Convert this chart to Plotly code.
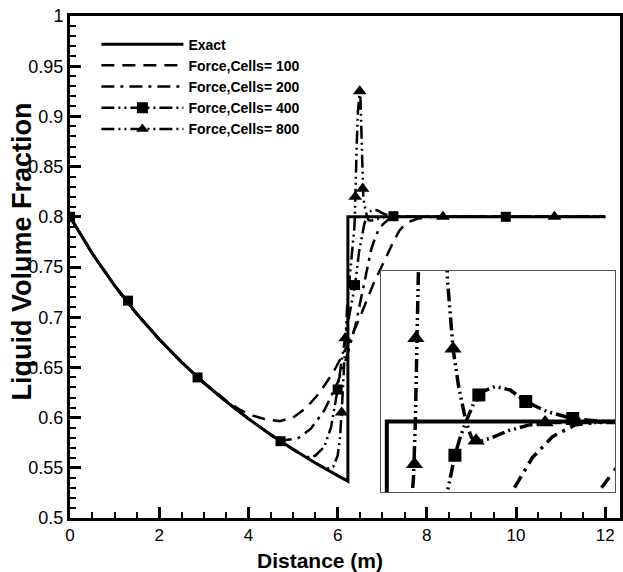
import plotly.graph_objects as go

# ---------------- data ----------------
series_names = ["Exact", "Force,Cells= 100", "Force,Cells= 200",
                "Force,Cells= 400", "Force,Cells= 800"]

exact_x = [0, 0.5, 1, 1.5, 2, 2.5, 3, 3.5, 4, 4.5, 5, 5.5, 6, 6.23, 6.23, 12]
exact_y = [0.8, 0.7634, 0.7315, 0.7032, 0.678, 0.6553, 0.6347, 0.616, 0.5988,
           0.583, 0.5684, 0.5548, 0.5422, 0.5367, 0.8, 0.8]

c100_x = [0, 0.5, 1, 1.5, 2, 2.5, 3, 3.5, 3.8, 4.1, 4.4, 4.7, 5.0, 5.3, 5.6, 5.9,
          6.2, 6.5, 6.8, 7.0, 7.15, 7.27, 7.38, 7.47, 7.6, 7.8, 8.0, 8.3, 12]
c100_y = [0.8, 0.7634, 0.7315, 0.7032, 0.678, 0.6553, 0.6347, 0.617, 0.608,
          0.602, 0.598, 0.5965, 0.600, 0.610, 0.625, 0.645, 0.670, 0.700, 0.733,
          0.752, 0.766, 0.777, 0.786, 0.7905, 0.795, 0.7983, 0.7996, 0.8, 0.8]

c200_x = [0, 0.5, 1, 1.5, 2, 2.5, 3, 3.5, 4, 4.5, 4.8, 5.1, 5.4, 5.7, 6.0, 6.2,
          6.4, 6.6, 6.75, 6.85, 6.91, 7.02, 7.13, 7.25, 7.4, 12]
c200_y = [0.8, 0.7634, 0.7315, 0.7032, 0.678, 0.6553, 0.6347, 0.616, 0.5988,
          0.583, 0.5775, 0.579, 0.589, 0.607, 0.635, 0.660, 0.692, 0.735, 0.767,
          0.7805, 0.786, 0.7928, 0.797, 0.7993, 0.8, 0.8]

c400_x = [0, 0.5, 1, 1.5, 2, 2.5, 3, 3.5, 4, 4.5, 5, 5.3, 5.5, 5.7, 5.85, 6.0,
          6.1, 6.2, 6.3, 6.39, 6.48, 6.53, 6.56, 6.6, 6.63, 6.66, 6.7, 6.75, 6.82,
          6.9, 6.985, 7.1, 7.24, 7.4, 12]
c400_y = [0.8, 0.7634, 0.7315, 0.7032, 0.678, 0.6553, 0.6347, 0.616, 0.5988,
          0.583, 0.5684, 0.5605, 0.562, 0.571, 0.59, 0.628, 0.66, 0.688, 0.711,
          0.732, 0.765, 0.778, 0.7862, 0.7933, 0.797, 0.8, 0.8035, 0.806, 0.807,
          0.8063, 0.804, 0.802, 0.8006, 0.8, 0.8]

c800_x = [0, 0.5, 1, 1.5, 2, 2.5, 3, 3.5, 4, 4.5, 5, 5.5, 5.75, 5.9, 6.0, 6.05,
          6.09, 6.13, 6.17, 6.21, 6.26, 6.31, 6.35, 6.375, 6.385, 6.395, 6.41,
          6.43, 6.455, 6.48, 6.495, 6.51, 6.525, 6.54, 6.55, 6.56, 6.575, 6.59,
          6.62, 6.66, 6.69, 6.715, 6.75, 6.8, 6.89, 7.0, 7.09, 7.25, 12]
c800_y = [0.8, 0.7634, 0.7315, 0.7032, 0.678, 0.6553, 0.6347, 0.616, 0.5988,
          0.583, 0.5684, 0.5548, 0.549, 0.551, 0.562, 0.578, 0.605, 0.642, 0.679,
          0.708, 0.735, 0.758, 0.776, 0.789, 0.80, 0.82, 0.845, 0.875, 0.905,
          0.922, 0.925, 0.92, 0.895, 0.858, 0.838, 0.828, 0.8205, 0.8145, 0.807,
          0.8, 0.7968, 0.7962, 0.7962, 0.7968, 0.7982, 0.7993, 0.7998, 0.8, 0.8]

# marker positions (main frame)
sq_main_x = [0, 1.3, 2.86, 4.72, 6.0, 6.39, 7.25, 9.77]
sq_main_y = [0.8, 0.7165, 0.640, 0.5765, 0.628, 0.732, 0.8006, 0.8]
tri_main_x = [6.09, 6.17, 6.395, 6.495, 6.56, 8.36, 10.86]
tri_main_y = [0.605, 0.679, 0.82, 0.925, 0.828, 0.8, 0.8]

# marker positions (inset frame)
sq_inset_x = [6.6, 6.73, 6.985, 7.24]
sq_inset_y = [0.7933, 0.8053, 0.804, 0.8006]
tri_inset_x = [6.38, 6.388, 6.59, 6.715, 7.09]
tri_inset_y = [0.7915, 0.8166, 0.8145, 0.7962, 0.7998]

x_tick_vals = [0, 2, 4, 6, 8, 10, 12]
y_tick_vals = [0.5, 0.55, 0.6, 0.65, 0.7, 0.75, 0.8, 0.85, 0.9, 0.95, 1.0]
y_tick_text = ["0.5", "0.55", "0.6", "0.65", "0.7", "0.75", "0.8", "0.85",
               "0.9", "0.95", "1"]
x_title = "Distance (m)"
y_title = "Liquid Volume Fraction"

# ---------------- styles ----------------
FONT = "Liberation Sans, Arial, Helvetica, sans-serif"
dash_styles = ["solid", "13px,8px", "13px,6px,3px,6px",
               "13px,4px,2px,4px,2px,4px", "13px,4px,2px,4px,2px,4px"]
main_widths = [3, 2.5, 2.5, 2.5, 2.5]
inset_widths = [4, 3.5, 3.5, 3.5, 3.5]
legend_symbols = [None, None, None, "square", "triangle-up"]

lines_x = [exact_x, c100_x, c200_x, c400_x, c800_x]
lines_y = [exact_y, c100_y, c200_y, c400_y, c800_y]

fig = go.Figure()

# main curves
for i in range(5):
    fig.add_trace(go.Scatter(x=lines_x[i], y=lines_y[i], mode="lines",
                             line=dict(color="black", width=main_widths[i],
                                       dash=dash_styles[i]),
                             showlegend=False, hoverinfo="skip",
                             xaxis="x", yaxis="y"))
fig.add_trace(go.Scatter(x=sq_main_x, y=sq_main_y, mode="markers",
                         marker=dict(symbol="square", size=10, color="black"),
                         showlegend=False, xaxis="x", yaxis="y"))
fig.add_trace(go.Scatter(x=tri_main_x, y=tri_main_y, mode="markers",
                         marker=dict(symbol="triangle-up", size=12, color="black"),
                         showlegend=False, xaxis="x", yaxis="y"))

# inset curves
for i in range(5):
    fig.add_trace(go.Scatter(x=lines_x[i], y=lines_y[i], mode="lines",
                             line=dict(color="black", width=inset_widths[i],
                                       dash=dash_styles[i]),
                             showlegend=False, hoverinfo="skip",
                             xaxis="x2", yaxis="y2"))
fig.add_trace(go.Scatter(x=sq_inset_x, y=sq_inset_y, mode="markers",
                         marker=dict(symbol="square", size=13, color="black"),
                         showlegend=False, xaxis="x2", yaxis="y2"))
fig.add_trace(go.Scatter(x=tri_inset_x, y=tri_inset_y, mode="markers",
                         marker=dict(symbol="triangle-up", size=15, color="black"),
                         showlegend=False, xaxis="x2", yaxis="y2"))

# legend entries
for i in range(5):
    kw = dict(mode="lines")
    if legend_symbols[i]:
        kw = dict(mode="lines+markers",
                  marker=dict(symbol=legend_symbols[i], size=11, color="black"))
    fig.add_trace(go.Scatter(x=[None], y=[None], name=series_names[i],
                             line=dict(color="black", width=main_widths[i],
                                       dash=dash_styles[i]),
                             showlegend=True, xaxis="x", yaxis="y", **kw))

fig.update_layout(
    width=623, height=572,
    margin=dict(l=70, r=0, t=16, b=54),
    paper_bgcolor="white", plot_bgcolor="white",
    font=dict(family=FONT, color="black", size=18),
    showlegend=True,
    legend=dict(x=0.048, y=0.975, xanchor="left", yanchor="top",
                bgcolor="rgba(0,0,0,0)", borderwidth=0, itemwidth=82,
                font=dict(family=FONT, size=14, color="black", weight="bold"),
                tracegroupgap=0),
    xaxis=dict(range=[0, 12.33], domain=[0, 1], tickvals=x_tick_vals,
               ticks="inside", ticklen=11, tickwidth=2.5, tickcolor="black",
               showline=True, linecolor="black", linewidth=3, mirror=True,
               showgrid=False, zeroline=False,
               minor=dict(dtick=0.5, ticks="inside", ticklen=6, tickwidth=1.5,
                          tickcolor="black", showgrid=False),
               tickfont=dict(size=17)),
    yaxis=dict(range=[0.5, 1.0], domain=[0, 1], tickvals=y_tick_vals,
               ticktext=y_tick_text,
               ticks="inside", ticklen=11, tickwidth=2.5, tickcolor="black",
               showline=True, linecolor="black", linewidth=3, mirror=True,
               showgrid=False, zeroline=False,
               minor=dict(dtick=0.01, ticks="inside", ticklen=6, tickwidth=1.5,
                          tickcolor="black", showgrid=False),
               tickfont=dict(size=18)),
    xaxis2=dict(range=[6.2, 7.47], domain=[0.566, 0.991], anchor="y2",
                showticklabels=False, ticks="", showgrid=False, zeroline=False,
                showline=True, linecolor="#555555", linewidth=1.2, mirror=True),
    yaxis2=dict(range=[0.786, 0.830], domain=[0.052, 0.492], anchor="x2",
                showticklabels=False, ticks="", showgrid=False, zeroline=False,
                showline=True, linecolor="#555555", linewidth=1.2, mirror=True),
    annotations=[
        dict(text=x_title, xref="paper", yref="paper", x=0.454, y=-0.0837,
             xanchor="center", yanchor="middle", showarrow=False,
             font=dict(family=FONT, size=21, weight="bold", color="black")),
        dict(text=y_title, xref="paper", yref="paper", x=-0.088, y=0.53,
             xanchor="center", yanchor="middle", showarrow=False, textangle=-90,
             font=dict(family=FONT, size=27, weight="bold", color="black")),
    ],
)

fig.write_html("out.html")
